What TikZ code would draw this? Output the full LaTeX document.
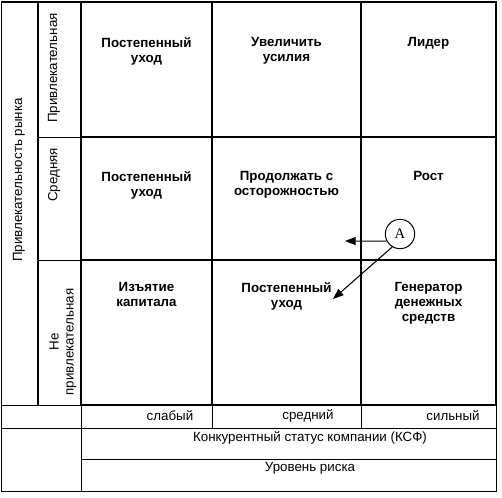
\documentclass[tikz,border=0pt]{standalone}
\usepackage{fontspec}
\setmainfont{Liberation Sans}
\newfontfamily\serifA{Liberation Serif}
\usetikzlibrary{arrows.meta,positioning}

\begin{document}
\begin{tikzpicture}[
    x=0.75pt, y=-0.75pt,
    thinline/.style={line width=0.75pt},
    thickline/.style={line width=1.6pt},
    cell/.style={anchor=north, align=center, inner sep=0pt, font=\bfseries\fontsize{10}{11.3}\selectfont},
    side/.style={rotate=90, align=center, inner sep=0pt, font=\fontsize{10}{11.3}\selectfont},
    label/.style={inner sep=0pt, font=\fontsize{10}{12}\selectfont},
    arrow/.style={-{Triangle[length=8pt,width=6pt]}, line width=0.8pt}
  ]
  \useasboundingbox (0,0) rectangle (502,497);

  % Thin frame and lower rows
  \draw[thinline] (1.5,1.5) rectangle (496,491);
  \draw[thinline] (1.5,405) -- (81,405);
  \draw[thinline] (1.5,428) -- (496,428);
  \draw[thinline] (81,459) -- (496,459);
  \draw[thinline] (81,405) -- (81,491);
  \draw[thinline] (212,405) -- (212,428);
  \draw[thinline] (361,405) -- (361,428);
  \draw[thinline] (38,137) -- (81,137);
  \draw[thinline] (38,260) -- (81,260);

  % Thick matrix lines
  \draw[thickline] (1.5,2) -- (496,2);
  \foreach \x in {38,81,212,361,496}
    \draw[thickline] (\x,2) -- (\x,405);
  \foreach \y in {137,260,405}
    \draw[thickline] (81,\y) -- (496,\y);

  % Side labels
  \node[side] (market) at (19,180) {Привлекательность рынка};
  \node[side] (high) at (54,68) {Привлекательная};
  \node[side] (mid) at (54,175) {Средняя};
  \node[side] (low) at (63,342) {Не\\привлекательная};

  % Cells
  \node[cell] (c11) at (146.5,37) {Постепенный\\уход};
  \node[cell] (c12) at (286.5,37) {Увеличить\\усилия};
  \node[cell] (c13) at (428.5,37) {Лидер};
  \node[cell] (c21) at (146.5,171) {Постепенный\\уход};
  \node[cell] (c22) at (286.5,171) {Продолжать с\\осторожностью};
  \node[cell] (c23) at (428.5,171) {Рост};
  \node[cell] (c31) at (146.5,282) {Изъятие\\капитала};
  \node[cell] (c32) at (286.5,282) {Постепенный\\уход};
  \node[cell] (c33) at (428.5,282) {Генератор\\денежных\\средств};

  % Bottom labels
  \node[label] (weak) at (170,416) {слабый};
  \node[label] (medium) at (308,416) {средний};
  \node[label] (strong) at (453,416) {сильный};
  \node[label] (ksf) at (310,438) {Конкурентный статус компании (КСФ)};
  \node[label] (risk) at (310,468) {Уровень риска};

  % Position A and moves
  \node[draw, circle, thinline, minimum size=22pt, inner sep=0pt, font=\serifA\fontsize{11}{12}\selectfont] (A) at (400,234) {A};
  \coordinate (tipL) at (345,241);
  \coordinate (tipD) at (333,299);
  \draw[arrow] (A.208) -- (tipL);
  \draw[arrow] (A.239) -- (tipD);
\end{tikzpicture}
\end{document}
